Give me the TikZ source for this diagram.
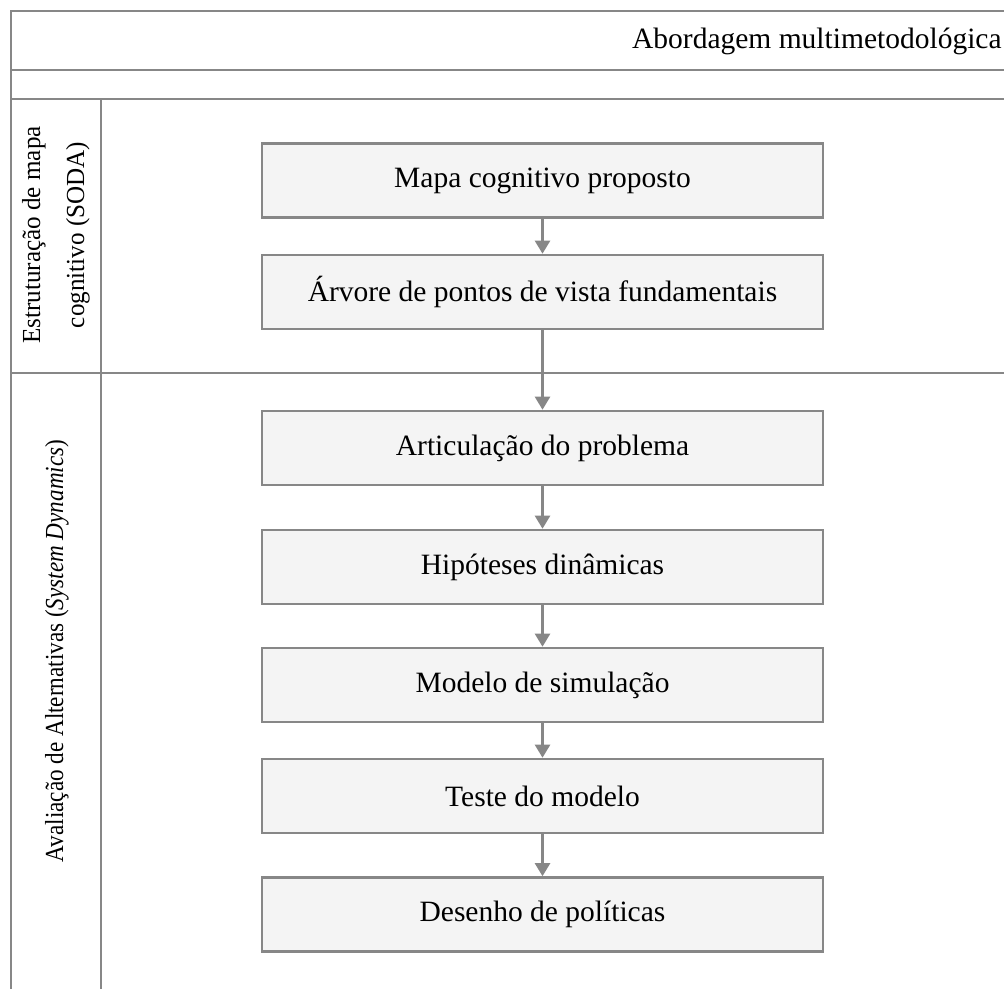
\documentclass[tikz,border=0pt]{standalone}
\usepackage{fontspec}
\setmainfont{Liberation Serif}
\newfontfamily\lanefontA{Liberation Serif}[FakeStretch=0.965]
\newfontfamily\lanefontB{Liberation Serif}[FakeStretch=0.89]
\usetikzlibrary{arrows.meta}
\definecolor{linegray}{HTML}{878787}
\definecolor{boxfill}{HTML}{F4F4F4}
\begin{document}
\begin{tikzpicture}[x=0.5pt,y=-0.5pt,
  tableline/.style={draw=linegray,line width=1.3pt},
  stepbox/.style={draw=linegray,fill=boxfill,line width=1.3pt,minimum width=280.5pt,minimum height=37pt,inner sep=0pt,font=\fontsize{14.75}{17}\selectfont},
  flow/.style={draw=linegray,line width=1.2pt,-{Triangle[width=7.5pt,length=6.5pt]}},
  lanelabel/.style={rotate=90,align=center,inner sep=0pt}]
\useasboundingbox (0,0) rectangle (1004,989);
% table frame
\draw[tableline] (1004,11) -- (11,11) -- (11,989);
\draw[tableline] (11,70) -- (1004,70);
\draw[tableline] (11,99) -- (1004,99);
\draw[tableline] (11,373) -- (1004,373);
\draw[tableline] (101,99) -- (101,989);
% header
\node[anchor=east,inner sep=0pt,font=\fontsize{14.75}{17}\selectfont] (title) at (1002,41) {Abordagem multimetodológica};
% lane labels
\node[lanelabel,font=\lanefontA\fontsize{13}{22}\selectfont] (soda) at (56,235) {Estruturação de mapa\\cognitivo (SODA)};
\node[lanelabel,font=\lanefontB\fontsize{13}{22}\selectfont] (sd) at (57,651) {Avaliação de Alternativas (\textit{System Dynamics})};
% boxes
\node[stepbox] (b1) at (542.5,180.5) {Mapa cognitivo proposto};
\node[stepbox] (b2) at (542.5,292) {Árvore de pontos de vista fundamentais};
\node[stepbox] (b3) at (542.5,448) {Articulação do problema};
\node[stepbox] (b4) at (542.5,567) {Hipóteses dinâmicas};
\node[stepbox] (b5) at (542.5,685) {Modelo de simulação};
\node[stepbox] (b6) at (542.5,796) {Teste do modelo};
\node[stepbox] (b7) at (542.5,914.5) {Desenho de políticas};
% arrows
\draw[flow] (b1) -- (b2);
\draw[flow] (b2) -- (b3);
\draw[flow] (b3) -- (b4);
\draw[flow] (b4) -- (b5);
\draw[flow] (b5) -- (b6);
\draw[flow] (b6) -- (b7);
\end{tikzpicture}
\end{document}
